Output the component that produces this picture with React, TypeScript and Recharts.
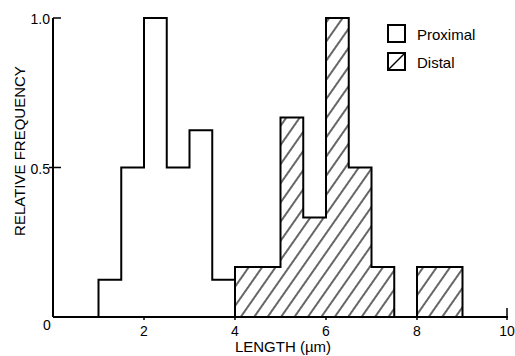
import React from "react";
import { ComposedChart, Area, XAxis, YAxis, Legend, Label } from "recharts";

// histogram bins, width 0.5 um
const binWidth = 0.5;
const proximalStart = 1.0;
const proximalFreq = [0.125, 0.5, 1.0, 0.5, 0.625, 0.125];
const distalStart = 4.0;
const distalFreq = [0.167, 0.167, 0.667, 0.333, 1.0, 0.5, 0.167, 0, 0.167, 0.167];

const seriesNames = ["Proximal", "Distal"];
const xTicks = [0, 2, 4, 6, 8, 10];
const yTicks = [0.5, 1.0];

const FONT = "'Liberation Sans', Arial, sans-serif";

// turn bins into step outline rows (stepAfter)
const steps = (start: number, freq: number[], key: string) => {
  const rows: any[] = [{ x: start, [key]: 0 }];
  freq.forEach((v, i) => rows.push({ x: start + i * binWidth, [key]: v }));
  rows.push({ x: start + freq.length * binWidth, [key]: 0 });
  return rows;
};

const data = [
  ...steps(proximalStart, proximalFreq, "proximal"),
  ...steps(distalStart, distalFreq, "distal"),
];

const XTick = (props: any) => {
  const { x, y, payload } = props;
  const v = payload.value;
  if (v === 0) {
    return (
      <text x={x - 6} y={y + 13} textAnchor="middle" fontSize={14} fontFamily={FONT}>
        {v}
      </text>
    );
  }
  return (
    <g>
      <line x1={x} x2={x} y1={v === 10 ? y - 9 : y} y2={y + 3} stroke="#000" strokeWidth={1.5} />
      <text x={x} y={y + 19} textAnchor="middle" fontSize={14} fontFamily={FONT}>
        {v}
      </text>
    </g>
  );
};

const YTick = (props: any) => {
  const { x, y, payload } = props;
  const v = payload.value;
  return (
    <g>
      <line x1={v === 1 ? x : x - 4} x2={x + 8} y1={y} y2={y} stroke="#000" strokeWidth={1.5} />
      <text
        x={x - 3}
        y={y + 1}
        textAnchor="end"
        dominantBaseline="central"
        fontSize={14}
        fontFamily={FONT}
      >
        {v.toFixed(1)}
      </text>
    </g>
  );
};

const LegendBox = (props: any) => {
  const items = [...(props.payload || [])].sort(
    (a: any, b: any) => seriesNames.indexOf(a.value) - seriesNames.indexOf(b.value)
  );
  return (
    <div style={{ fontFamily: FONT, fontSize: 15 }}>
      {items.map((entry: any) => (
        <div
          key={entry.value}
          style={{ display: "flex", alignItems: "center", height: 28 }}
        >
          <svg width={20} height={20} style={{ marginRight: 10 }}>
            <rect x={1} y={1} width={17} height={17} fill="#fff" stroke="#000" strokeWidth={2} />
            {entry.value === "Distal" && (
              <line x1={2} y1={17} x2={17} y2={2} stroke="#000" strokeWidth={1.5} />
            )}
          </svg>
          <span>{entry.value}</span>
        </div>
      ))}
    </div>
  );
};

export default function App() {
  return (
    <div style={{ position: "absolute", left: 0, top: 0, background: "#fff" }}>
      <ComposedChart
        width={515}
        height={356}
        data={data}
        margin={{ top: 18, right: 7, bottom: 9, left: 13 }}
      >
        <defs>
          <pattern
            id="hatch"
            patternUnits="userSpaceOnUse"
            width={11}
            height={11}
            patternTransform="rotate(35)"
          >
            <rect width={11} height={11} fill="#fff" />
            <line x1={5} y1={0} x2={5} y2={11} stroke="#000" strokeWidth={1.2} />
          </pattern>
        </defs>
        <XAxis
          dataKey="x"
          type="number"
          domain={[0, 10]}
          ticks={xTicks}
          tick={<XTick />}
          tickLine={false}
          tickSize={0}
          tickMargin={0}
          height={30}
          axisLine={{ stroke: "#000", strokeWidth: 2 }}
        >
          <Label
            content={() => (
              <text x={283} y={352} textAnchor="middle" fontSize={15} fontFamily={FONT}>
                LENGTH (µm)
              </text>
            )}
          />
        </XAxis>
        <YAxis
          type="number"
          domain={[0, 1]}
          ticks={yTicks}
          tick={<YTick />}
          tickLine={false}
          tickSize={0}
          tickMargin={0}
          width={40}
          axisLine={{ stroke: "#000", strokeWidth: 2 }}
        >
          <Label
            content={() => (
              <text
                x={19}
                y={151}
                transform="rotate(-90 19 151)"
                textAnchor="middle"
                dominantBaseline="central"
                fontSize={15}
                fontFamily={FONT}
              >
                RELATIVE FREQUENCY
              </text>
            )}
          />
        </YAxis>
        <Legend
          content={<LegendBox />}
          layout="vertical"
          align="center"
          verticalAlign="middle"
          wrapperStyle={{ position: "absolute", top: 20, left: 387, width: 120 }}
        />
        <Area
          name="Proximal"
          dataKey="proximal"
          type="stepAfter"
          stroke="#000"
          strokeWidth={2}
          fill="none"
          dot={false}
          activeDot={false}
          isAnimationActive={false}
        />
        <Area
          name="Distal"
          dataKey="distal"
          type="stepAfter"
          stroke="#000"
          strokeWidth={2}
          fill="url(#hatch)"
          fillOpacity={1}
          dot={false}
          activeDot={false}
          isAnimationActive={false}
        />
      </ComposedChart>
    </div>
  );
}
